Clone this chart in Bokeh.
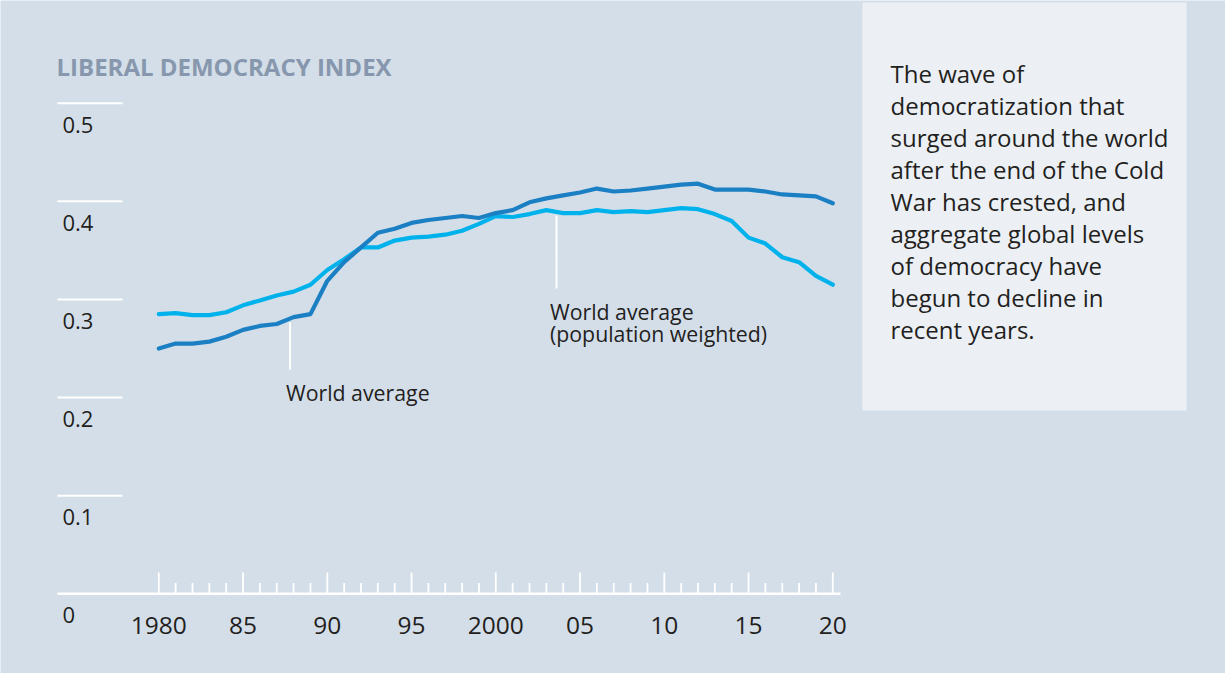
from bokeh.plotting import figure
from bokeh.models import Range1d
from bokeh.core.properties import value
from bokeh.embed import file_html
from bokeh.resources import INLINE

# ---------------- data ----------------
years = list(range(1980, 2021))
world_average = [0.250, 0.255, 0.255, 0.257, 0.262, 0.269, 0.273, 0.275, 0.282, 0.285,
                 0.319, 0.338, 0.353, 0.368, 0.372, 0.378, 0.381, 0.383, 0.385, 0.383,
                 0.388, 0.391, 0.399, 0.403, 0.406, 0.409, 0.413, 0.410, 0.411, 0.413,
                 0.415, 0.417, 0.418, 0.412, 0.412, 0.412, 0.410, 0.407, 0.406, 0.405,
                 0.398]
population_weighted = [0.285, 0.286, 0.284, 0.284, 0.287, 0.294, 0.299, 0.304, 0.308, 0.315,
                       0.330, 0.341, 0.353, 0.353, 0.360, 0.363, 0.364, 0.366, 0.370, 0.377,
                       0.385, 0.384, 0.387, 0.391, 0.388, 0.388, 0.391, 0.389, 0.390, 0.389,
                       0.391, 0.393, 0.392, 0.387, 0.380, 0.363, 0.357, 0.343, 0.338, 0.324,
                       0.315]
y_ticks = [0.0, 0.1, 0.2, 0.3, 0.4, 0.5]
y_tick_labels = ["0", "0.1", "0.2", "0.3", "0.4", "0.5"]
x_major_ticks = [1980, 1985, 1990, 1995, 2000, 2005, 2010, 2015, 2020]
x_major_labels = ["1980", "85", "90", "95", "2000", "05", "10", "15", "20"]
x_minor_ticks = [y for y in years if y % 5 != 0]

title_text = "LIBERAL DEMOCRACY INDEX"
label_world = "World average"
label_weighted = ["World average", "(population weighted)"]
note_lines = ["The wave of", "democratization that", "surged around the world",
              "after the end of the Cold", "War has crested, and",
              "aggregate global levels", "of democracy have",
              "begun to decline in", "recent years."]

# ---------------- style / geometry ----------------
BG = "#d4dee9"
BOX = "#ecf0f5"
DARK = "#1b7fc3"
LIGHT = "#00b2ec"
TXT = "#231f20"
TITLE = "#8797ad"
FONT = "Open Sans"
SHIFT = 0.38         # baseline correction, in em

W, H = 1225, 673
PPX = 16.85          # pixels per year
PPU = 981.2          # pixels per index unit
X0_PX = 158.3        # px of 1980
Y0_PX = 593.3        # px of value 0
x_start = 1980 - X0_PX / PPX
x_end = x_start + W / PPX
y_end = Y0_PX / PPU
y_start = y_end - H / PPU


def X(px):  # page px -> data x
    return x_start + px / PPX


def Y(py):  # page px -> data y
    return y_end - py / PPU


def TB(py, size):  # desired visual baseline -> data y for a text glyph
    return Y(py - SHIFT * size)


p = figure(width=W, height=H, x_range=Range1d(x_start, x_end),
           y_range=Range1d(y_start, y_end), output_backend="svg",
           toolbar_location=None, min_border=0,
           x_axis_location=None, y_axis_location=None,
           background_fill_color=BG, border_fill_color=BG,
           outline_line_color=None)
p.grid.visible = False

# text box
p.quad(left=[X(862)], right=[X(1186)], bottom=[Y(410)], top=[Y(2)],
       fill_color=BOX, line_color=None)

# y tick lines
n = len(y_ticks)
p.segment(x0=[X(57)] * (n - 1), x1=[X(122)] * (n - 1), y0=y_ticks[1:], y1=y_ticks[1:],
          line_color="white", line_width=2)
# baseline
p.segment(x0=[X(57)], x1=[X(840)], y0=[0], y1=[0], line_color="white", line_width=2.5)
# x ticks
p.segment(x0=x_major_ticks, x1=x_major_ticks, y0=[0] * len(x_major_ticks),
          y1=[Y(572) - Y(593.3)] * len(x_major_ticks), line_color="white", line_width=1.8)
p.segment(x0=x_minor_ticks, x1=x_minor_ticks, y0=[0] * len(x_minor_ticks),
          y1=[Y(582.5) - Y(593.3)] * len(x_minor_ticks), line_color="white", line_width=1.8)

# tick labels
p.text(x=[X(62)] * n, y=[v - (30 - SHIFT * 22) / PPU for v in y_ticks], text=y_tick_labels,
       text_font=value(FONT), text_font_size="22px", text_color=TXT,
       text_align="left", text_baseline="alphabetic")
p.text(x=x_major_ticks, y=[TB(634.3, 24.5)] * len(x_major_ticks), text=x_major_labels,
       text_font=value(FONT), text_font_size="24.5px", text_color=TXT,
       text_align="center", text_baseline="alphabetic")

# series
p.line(years, population_weighted, line_color=LIGHT, line_width=4.2, line_join="round",
       line_cap="round")
p.line(years, world_average, line_color=DARK, line_width=4.2, line_join="round",
       line_cap="round")

# annotations
p.segment(x0=[X(289.5), X(556)], x1=[X(289.5), X(556)], y0=[Y(322), Y(215)],
          y1=[Y(369), Y(288)], line_color="white", line_width=2)
p.text(x=[X(285.5)], y=[TB(400.5, 21.3)], text=[label_world], text_font=value(FONT),
       text_font_size="21.3px", text_color=TXT, text_baseline="alphabetic")
p.text(x=[X(549.5), X(549.5)], y=[TB(319, 21.3), TB(341, 21.3)], text=label_weighted,
       text_font=value(FONT), text_font_size="21.3px", text_color=TXT,
       text_baseline="alphabetic")

# title
p.text(x=[X(56)], y=[TB(75, 24)], text=[title_text], text_font=value(FONT),
       text_font_size="24px", text_font_style="bold", text_color=TITLE,
       text_baseline="alphabetic")

# note
p.text(x=[X(890)] * len(note_lines),
       y=[TB(81.7 + 32.1 * i, 24) for i in range(len(note_lines))],
       text=note_lines, text_font=value(FONT), text_font_size="24px", text_color=TXT,
       text_baseline="alphabetic")

open("out.html", "w").write(file_html(p, INLINE))
